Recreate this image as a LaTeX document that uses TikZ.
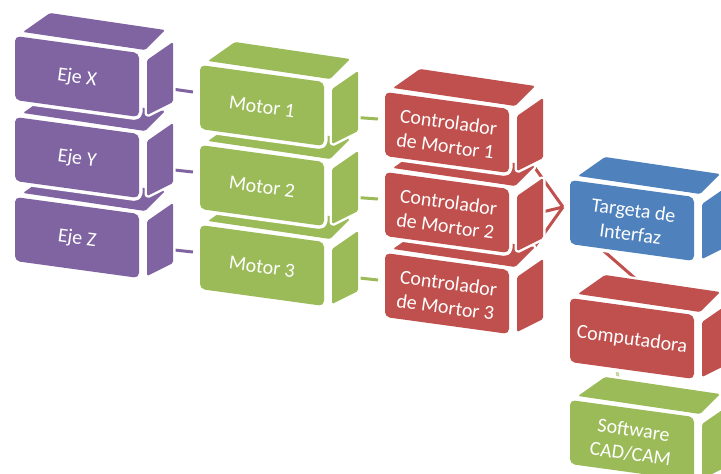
\documentclass[tikz,border=0pt]{standalone}
\usepackage{fontspec}
\setmainfont{Carlito}
\usetikzlibrary{backgrounds}
\definecolor{cpurple}{HTML}{8064A2}
\definecolor{cgreen}{HTML}{9BBB59}
\definecolor{cred}{HTML}{C0504D}
\definecolor{cblue}{HTML}{4F81BD}
\tikzset{
  face/.style={fill=#1, preaction={draw=white, line width=5pt, line join=round}, rounded corners=1.5pt},
  frontface/.style={fill=#1, preaction={draw=white, line width=7pt, line join=round}, rounded corners=5pt},
  lbl/.style={text=white, font=\fontsize{20}{24}\selectfont, align=center, rotate=-7.8, inner sep=0pt},
  conn/.style={line width=3pt, draw=#1},
}
\newcommand\cubebox[5]{%
  \begin{scope}[shift={(#2,#3)}]
    \path[face=#4] (8,-4) -- (130,14) -- (150,-6) -- (35,-23) -- cycle;
    \path[face=#4] (132,24) -- (158,6) -- (158,66) -- (132,79) -- cycle;
    \path[frontface=#4] (0,0) -- (124,17) -- (124,81) -- (0,64) -- cycle;
    \node[lbl] (#1) at (62,42) {#5};
    \coordinate (#1-in) at (-7,27);
    \coordinate (#1-out) at (150,52);
    \coordinate (#1-ra) at (140,62);
    \coordinate (#1-rb) at (145,43);
    \coordinate (#1-rt) at (148,-4);
    \coordinate (#1-dn) at (20,59);
    \coordinate (#1-dm) at (45,60);
    \coordinate (#1-up) at (75,-11);
    \coordinate (#1-uq) at (50,-10);
  \end{scope}}
\begin{document}
\begin{tikzpicture}[x=1pt,y=-1pt]
  \useasboundingbox (0,0) rectangle (721,474);
  \clip (0,0) rectangle (721,474);
  % purple column
  \cubebox{ejez}{15}{197}{cpurple}{Eje Z}
  \cubebox{ejey}{15}{117}{cpurple}{Eje Y}
  \cubebox{ejex}{15}{36}{cpurple}{Eje X}
  % green column
  \cubebox{motor3}{200}{225}{cgreen}{Motor 3}
  \cubebox{motor2}{200}{145}{cgreen}{Motor 2}
  \cubebox{motor1}{200}{65}{cgreen}{Motor 1}
  % red column
  \cubebox{ctrl3}{385}{253}{cred}{Controlador\\de Mortor 3}
  \cubebox{ctrl2}{385}{172}{cred}{Controlador\\de Mortor 2}
  \cubebox{ctrl1}{385}{92}{cred}{Controlador\\de Mortor 1}
  % right column
  \cubebox{soft}{570}{400}{cgreen}{Software\\CAD/CAM}
  \cubebox{comp}{570}{298}{cred}{Computadora}
  \cubebox{targeta}{570}{180}{cblue}{Targeta de\\Interfaz}
  \begin{pgfonlayer}{background}
    \draw[conn=cpurple] (ejex-out) -- (motor1-in);
    \draw[conn=cpurple] (ejey-out) -- (motor2-in);
    \draw[conn=cpurple] (ejez-out) -- (motor3-in);
    \draw[conn=cgreen] (motor1-out) -- (ctrl1-in);
    \draw[conn=cgreen] (motor2-out) -- (ctrl2-in);
    \draw[conn=cgreen] (motor3-out) -- (ctrl3-in);
    \draw[conn=cred] (ctrl1-ra) -- (targeta-in);
    \draw[conn=cred] (ctrl2-rb) -- (targeta-in);
    \draw[conn=cred] (ctrl3-rt) -- (targeta-in);
    \draw[conn=cred] (targeta-dn) -- (comp-up);
    \draw[conn=cgreen!60] (comp-dm) -- (soft-uq);
  \end{pgfonlayer}
\end{tikzpicture}
\end{document}
